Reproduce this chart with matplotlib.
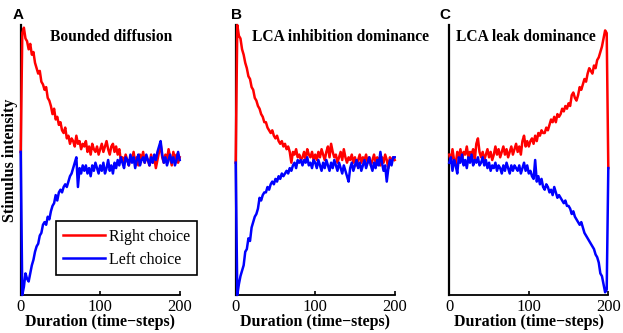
import numpy as np
import matplotlib
matplotlib.use('Agg')
import matplotlib.pyplot as plt

# time axis (time-steps), every 2 steps
steps = np.arange(0, 201, 2)

# Panel A: bounded diffusion
a_right = [
    0.53, 0.97, 0.99, 0.95, 0.94, 0.91, 0.93, 0.89, 0.90, 0.86,
    0.84, 0.82, 0.83, 0.79, 0.78, 0.76, 0.77, 0.73, 0.72, 0.70,
    0.67, 0.69, 0.65, 0.66, 0.63, 0.64, 0.61, 0.60, 0.62, 0.58,
    0.59, 0.56, 0.58, 0.57, 0.55, 0.59, 0.56, 0.57, 0.54, 0.56,
    0.55, 0.57, 0.53, 0.55, 0.52, 0.56, 0.54, 0.53, 0.55, 0.52,
    0.54, 0.56, 0.53, 0.55, 0.57, 0.54, 0.52, 0.55, 0.56, 0.53,
    0.55, 0.52, 0.54, 0.50, 0.51, 0.49, 0.52, 0.50, 0.48, 0.51,
    0.50, 0.53, 0.49, 0.51, 0.48, 0.52, 0.50, 0.53, 0.49, 0.51,
    0.50, 0.48, 0.52, 0.49, 0.51, 0.47, 0.50, 0.53, 0.56, 0.51,
    0.49, 0.52, 0.50, 0.54, 0.51, 0.48, 0.53, 0.50, 0.52, 0.49,
    0.51]
a_left = [
    0.53, 0.00, 0.03, 0.08, 0.06, 0.05, 0.08, 0.11, 0.13, 0.16,
    0.18, 0.19, 0.22, 0.23, 0.26, 0.27, 0.26, 0.29, 0.28, 0.31,
    0.33, 0.34, 0.37, 0.35, 0.38, 0.39, 0.38, 0.40, 0.41, 0.40,
    0.42, 0.44, 0.45, 0.47, 0.49, 0.51, 0.40, 0.47, 0.45, 0.48,
    0.46, 0.48, 0.45, 0.47, 0.44, 0.48, 0.46, 0.49, 0.47, 0.45,
    0.48, 0.46, 0.49, 0.45, 0.47, 0.50, 0.46, 0.48, 0.45, 0.49,
    0.47, 0.50, 0.48, 0.51, 0.49, 0.47, 0.51, 0.50, 0.48, 0.52,
    0.49, 0.51, 0.47, 0.50, 0.52, 0.48, 0.50, 0.51, 0.49, 0.52,
    0.50, 0.48, 0.51, 0.49, 0.52, 0.50, 0.53, 0.55, 0.57, 0.52,
    0.49, 0.51, 0.48, 0.50, 0.52, 0.49, 0.51, 0.48, 0.50, 0.53,
    0.50]

# Panel B: LCA inhibition dominance
b_right = [
    0.49, 1.00, 0.96, 0.95, 0.91, 0.89, 0.86, 0.84, 0.81, 0.80,
    0.77, 0.76, 0.73, 0.72, 0.70, 0.69, 0.67, 0.66, 0.64, 0.64,
    0.62, 0.61, 0.60, 0.61, 0.59, 0.58, 0.59, 0.57, 0.56, 0.57,
    0.55, 0.56, 0.54, 0.55, 0.53, 0.49, 0.53, 0.52, 0.54, 0.51,
    0.52, 0.50, 0.51, 0.53, 0.50, 0.54, 0.52, 0.51, 0.53, 0.50,
    0.52, 0.50, 0.53, 0.51, 0.54, 0.52, 0.50, 0.53, 0.55, 0.51,
    0.56, 0.53, 0.51, 0.52, 0.49, 0.51, 0.53, 0.50, 0.54, 0.51,
    0.49, 0.51, 0.50, 0.52, 0.49, 0.51, 0.48, 0.50, 0.52, 0.49,
    0.51, 0.50, 0.52, 0.49, 0.51, 0.48, 0.50, 0.52, 0.49, 0.51,
    0.50, 0.48, 0.51, 0.49, 0.52, 0.50, 0.47, 0.51, 0.49, 0.51,
    0.50]
b_left = [
    0.49, 0.00, 0.04, 0.07, 0.09, 0.11, 0.16, 0.17, 0.21, 0.20,
    0.25, 0.27, 0.29, 0.30, 0.32, 0.36, 0.35, 0.37, 0.38, 0.38,
    0.40, 0.39, 0.41, 0.42, 0.41, 0.43, 0.42, 0.44, 0.43, 0.45,
    0.44, 0.45, 0.46, 0.45, 0.47, 0.46, 0.48, 0.49, 0.47, 0.50,
    0.49, 0.50, 0.48, 0.50, 0.49, 0.51, 0.48, 0.49, 0.47, 0.50,
    0.49, 0.47, 0.50, 0.48, 0.46, 0.49, 0.47, 0.50, 0.48, 0.46,
    0.49, 0.47, 0.50, 0.48, 0.46, 0.49, 0.47, 0.45, 0.48, 0.46,
    0.44, 0.42, 0.47, 0.49, 0.46, 0.48, 0.50, 0.47, 0.49, 0.46,
    0.48, 0.50, 0.47, 0.49, 0.51, 0.48, 0.46, 0.49, 0.47, 0.50,
    0.48, 0.53, 0.49, 0.46, 0.48, 0.42, 0.47, 0.50, 0.48, 0.51,
    0.51]

# Panel C: LCA leak dominance
c_right = [
    0.52, 0.49, 0.54, 0.50, 0.48, 0.53, 0.51, 0.54, 0.50, 0.53,
    0.52, 0.55, 0.51, 0.53, 0.52, 0.54, 0.50, 0.56, 0.58, 0.53,
    0.51, 0.53, 0.50, 0.52, 0.54, 0.51, 0.53, 0.50, 0.52, 0.55,
    0.52, 0.54, 0.51, 0.53, 0.55, 0.52, 0.54, 0.51, 0.53, 0.55,
    0.52, 0.54, 0.56, 0.53, 0.55, 0.52, 0.57, 0.59, 0.55, 0.57,
    0.55, 0.57, 0.58, 0.56, 0.59, 0.57, 0.60, 0.59, 0.61, 0.60,
    0.60, 0.62, 0.61, 0.63, 0.65, 0.64, 0.66, 0.64, 0.67, 0.66,
    0.67, 0.69, 0.68, 0.70, 0.69, 0.71, 0.70, 0.74, 0.75, 0.73,
    0.72, 0.74, 0.77, 0.76, 0.78, 0.80, 0.79, 0.82, 0.84, 0.83,
    0.82, 0.85, 0.84, 0.87, 0.88, 0.90, 0.92, 0.95, 0.98, 0.97,
    0.47]
c_left = [
    0.49, 0.51, 0.46, 0.50, 0.48, 0.45, 0.51, 0.49, 0.52, 0.48,
    0.50, 0.47, 0.51, 0.49, 0.52, 0.48, 0.50, 0.49, 0.51, 0.48,
    0.49, 0.51, 0.48, 0.50, 0.47, 0.49, 0.46, 0.48, 0.47, 0.49,
    0.46, 0.48, 0.47, 0.45, 0.48, 0.46, 0.49, 0.47, 0.45, 0.48,
    0.46, 0.48, 0.47, 0.46, 0.48, 0.45, 0.47, 0.49, 0.46, 0.48,
    0.45, 0.46, 0.44, 0.43, 0.50, 0.42, 0.44, 0.41, 0.43, 0.40,
    0.39, 0.41, 0.40, 0.38, 0.39, 0.37, 0.40, 0.38, 0.36, 0.37,
    0.36, 0.35, 0.34, 0.35, 0.33, 0.33, 0.32, 0.30, 0.31, 0.29,
    0.28, 0.27, 0.26, 0.27, 0.25, 0.23, 0.22, 0.21, 0.20, 0.19,
    0.18, 0.17, 0.15, 0.14, 0.12, 0.08, 0.07, 0.04, 0.01, 0.02,
    0.47]

panels = ['A', 'B', 'C']
titles = ['Bounded diffusion', 'LCA inhibition dominance', 'LCA leak dominance']
rights = [a_right, b_right, c_right]
lefts = [a_left, b_left, c_left]
xticks = [0, 100, 200]

serif = 'Liberation Serif'
fig = plt.figure(figsize=(6.23, 3.33), dpi=100)

lefts_px = [20.7, 235.7, 449.3]
title_x = [0.57, 0.10, 0.04]
title_ha = ['center', 'left', 'left']
lab_x = [18, 237, 445]

for i in range(3):
    ax = fig.add_axes([lefts_px[i]/623, 38/333, 159/623, 270/333])
    ax.plot(steps, rights[i], color='#ff0000', linewidth=1.8, clip_on=False, label='Right choice', zorder=3)
    ax.plot(steps, lefts[i], color='#0000ff', linewidth=1.8, clip_on=False, label='Left choice', zorder=3)
    ax.set_xlim(0, 200)
    ax.set_ylim(0, 1)
    ax.spines['top'].set_visible(False)
    ax.spines['right'].set_visible(False)
    ax.spines['left'].set_linewidth(1.6)
    ax.spines['bottom'].set_linewidth(1.3)
    ax.set_yticks([])
    ax.set_xticks(xticks)
    ax.tick_params(axis='x', direction='in', length=3, width=1.2, pad=3)
    for lb in ax.get_xticklabels():
        lb.set_fontfamily(serif)
        lb.set_fontsize(12)
    ax.set_xlabel('Duration (time\u2212steps)', fontfamily=serif, fontweight='bold', fontsize=11.5, labelpad=-1)
    ax.text(title_x[i], 0.955, titles[i], transform=ax.transAxes, ha=title_ha[i], va='center',
            fontfamily=serif, fontweight='bold', fontsize=11.2)
    fig.text(lab_x[i]/623, 1 - 15/333, panels[i], ha='center', va='center',
             fontfamily='Liberation Sans', fontweight='bold', fontsize=11)
    if i == 0:
        ax.set_ylabel('Stimulus intensity', fontfamily=serif, fontweight='bold', fontsize=11.5, labelpad=2)
        leg = ax.legend(loc='lower right', bbox_to_anchor=(1.11, 0.074), borderaxespad=0,
                        prop={'family': serif, 'size': 11.5}, frameon=True, fancybox=False,
                        handlelength=2.6, handletextpad=0.25, borderpad=0.45, labelspacing=0.45,
                        framealpha=1)
        leg.get_frame().set_edgecolor('black')
        leg.get_frame().set_linewidth(1.2)
        leg.set_zorder(5)

fig.savefig('out.png', dpi=100)
